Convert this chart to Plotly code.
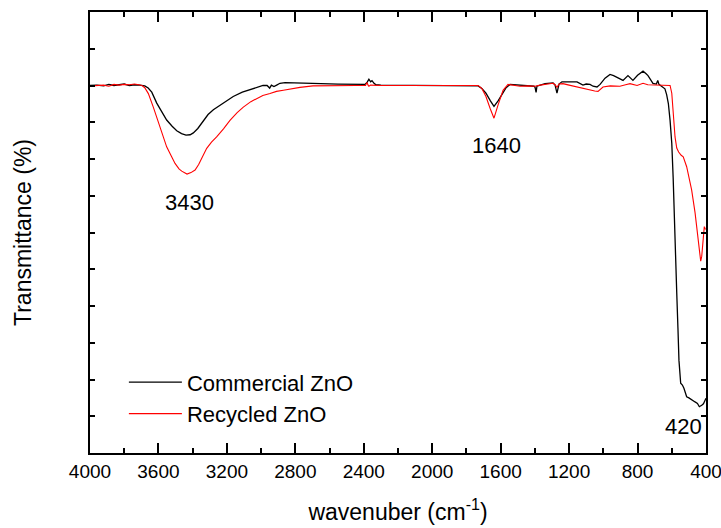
import plotly.graph_objects as go

# Commercial ZnO (black)
comm_wn = [4000, 3960, 3920, 3890, 3860, 3830, 3800, 3770, 3740, 3710, 3680, 3660, 3639, 3610,
           3580, 3552, 3520, 3493, 3465, 3439, 3415, 3396, 3370, 3338, 3310, 3279, 3220, 3163,
           3110, 3065, 3020, 2989, 2965, 2950, 2940, 2925, 2909, 2890, 2860, 2831, 2700, 2550,
           2420, 2393, 2380, 2370, 2360, 2352, 2340, 2329, 2300, 2100, 1900, 1760, 1732, 1710,
           1686, 1660, 1639, 1615, 1592, 1570, 1545, 1520, 1487, 1440, 1405, 1399, 1393, 1388,
           1341, 1294, 1282, 1271, 1259, 1242, 1200, 1154, 1119, 1100, 1078, 1060, 1037, 1019,
           990, 961, 940, 920, 900, 885, 856, 840, 827, 800, 768, 750, 739, 710, 690, 682, 675,
           660, 640, 630, 620, 610, 600, 592, 585, 578, 571, 564, 558, 548, 538, 529, 513, 500,
           484, 464, 450, 439, 425, 415, 410, 400]
comm_t = [100.0, 100.1, 99.9, 100.3, 100.0, 100.2, 100.4, 100.0, 100.2, 100.1, 99.9, 99.3, 98.2, 95.2,
          92.8, 90.6, 88.9, 87.7, 86.9, 86.5, 86.6, 87.1, 88.3, 90.4, 92.1, 93.4, 95.3, 97.0,
          98.2, 98.9, 99.6, 100.0, 100.0, 99.3, 100.1, 99.7, 100.1, 100.6, 100.8, 100.8, 100.6, 100.4,
          100.3, 100.3, 100.9, 101.7, 101.0, 101.3, 100.6, 100.2, 100.1, 100.0, 100.0, 100.0, 99.9, 99.2,
          97.9, 95.8, 94.3, 95.8, 97.6, 99.3, 100.3, 100.2, 100.0, 99.9, 99.8, 99.5, 98.1, 99.8,
          100.5, 100.7, 100.1, 97.9, 100.4, 101.0, 101.0, 101.0, 100.1, 100.4, 100.3, 99.8, 99.6, 100.3,
          102.0, 103.0, 102.7, 102.3, 101.8, 101.4, 102.7, 102.0, 101.4, 102.8, 103.9, 103.2, 102.7, 100.6, 100.4, 101.4, 100.3,
          99.8, 99.1, 97.5, 95.1, 90.5, 84.3, 75.0, 66.2, 53.0, 43.6, 34.0, 25.2, 19.0, 18.5, 17.6, 15.3, 15.0,
          14.4, 13.9, 13.5, 12.6, 13.0, 13.4, 13.9, 14.9]

# Recycled ZnO (red)
rec_wn = [4000, 3960, 3920, 3890, 3860, 3830, 3800, 3770, 3740, 3715, 3696, 3680, 3659, 3630,
          3610, 3591, 3570, 3552, 3525, 3503, 3480, 3464, 3433, 3410, 3386, 3365, 3347, 3318,
          3290, 3260, 3220, 3182, 3140, 3104, 3060, 3026, 2990, 2948, 2910, 2870, 2831, 2773,
          2697, 2600, 2450, 2390, 2381, 2375, 2370, 2360, 2300, 2100, 1900, 1760, 1732, 1710,
          1686, 1662, 1639, 1616, 1600, 1586, 1557, 1520, 1487, 1440, 1399, 1370, 1341, 1294,
          1282, 1271, 1259, 1236, 1200, 1154, 1120, 1078, 1050, 1031, 1015, 1002, 960, 903, 870,
          844, 803, 768, 740, 686, 650, 627, 610, 600, 591, 581, 571, 560, 545, 533, 513, 500,
          484, 464, 445, 431, 425, 420, 410, 403]
rec_t = [99.9, 100.0, 100.1, 99.8, 100.3, 100.1, 100.3, 100.2, 100.4, 100.2, 100.0, 99.4, 97.8, 94.1,
         91.4, 88.7, 85.7, 83.3, 80.8, 78.8, 77.3, 76.7, 75.9, 76.3, 77.0, 78.5, 80.2, 82.9,
         84.6, 86.0, 88.2, 90.5, 92.6, 94.1, 95.6, 96.4, 97.3, 97.8, 98.4, 98.7, 99.1, 99.5,
         99.9, 100.0, 100.0, 100.0, 100.8, 100.1, 99.8, 100.1, 100.0, 100.0, 99.9, 100.0, 100.0, 99.2,
         97.0, 93.8, 91.1, 94.6, 97.0, 98.7, 100.3, 100.0, 99.8, 99.9, 99.8, 100.1, 100.3, 100.6,
         100.2, 99.5, 100.4, 100.5, 100.1, 99.6, 99.1, 98.7, 98.5, 98.4, 99.2, 99.6, 99.9, 99.8, 100.2,
         100.5, 100.0, 100.6, 100.2, 100.2, 100.0, 100.0, 100.0, 97.9, 92.4, 86.0, 83.0, 81.9, 81.0, 80.6, 77.9, 75.2,
         71.6, 65.4, 58.0, 52.2, 53.5, 56.2, 61.6, 60.8]

x_ticks = [4000, 3600, 3200, 2800, 2400, 2000, 1600, 1200, 800, 400]
peak_labels = ["3430", "1640", "420"]
peak_x = [3421, 1625, 534]
peak_y = [68.3, 83.8, 7.3]

FONT = "Liberation Sans, Arial, sans-serif"

fig = go.Figure()
fig.add_trace(go.Scatter(x=comm_wn, y=comm_t, mode="lines", name="Commercial ZnO",
                         line=dict(color="black", width=1.3)))
fig.add_trace(go.Scatter(x=rec_wn, y=rec_t, mode="lines", name="Recycled ZnO",
                         line=dict(color="#ff0000", width=1.1)))

for lab, xx, yy in zip(peak_labels, peak_x, peak_y):
    fig.add_annotation(x=xx, y=yy, xref="x", yref="y", text=lab, showarrow=False,
                       font=dict(size=22, color="black", family=FONT))

fig.update_layout(
    width=721, height=528,
    margin=dict(l=90, r=15, t=12, b=75),
    paper_bgcolor="white", plot_bgcolor="white",
    font=dict(family=FONT, color="black"),
    showlegend=True,
    legend=dict(x=0.055, y=0.208, xanchor="left", yanchor="top",
                font=dict(size=22, family=FONT, color="black"),
                bgcolor="rgba(0,0,0,0)", itemwidth=53, tracegroupgap=0),
    xaxis=dict(
        range=[4000, 400], tickvals=x_ticks, ticktext=[str(v) for v in x_ticks],
        ticks="inside", ticklen=10, tickwidth=1.5, tickcolor="black",
        minor=dict(dtick=200, tick0=0, ticks="inside", ticklen=5, tickwidth=1.5, tickcolor="black"),
        showline=True, linecolor="black", linewidth=1.6, mirror="ticks",
        showgrid=False, zeroline=False, automargin=False, ticklabeloverflow="allow",
        tickfont=dict(size=19, family=FONT, color="black"),
        title=dict(text="wavenuber (cm<sup>-1</sup>)", font=dict(size=23, family=FONT, color="black"),
                   standoff=23),
    ),
    yaxis=dict(
        range=[0, 120], dtick=10, tick0=0,
        ticks="inside", ticklen=5, tickwidth=1.5, tickcolor="black",
        showticklabels=False, automargin=False,
        showline=True, linecolor="black", linewidth=1.6, mirror="ticks",
        showgrid=False, zeroline=False,
        title=dict(text="Transmittance (%)", font=dict(size=23, family=FONT, color="black"),
                   standoff=50),
    ),
)

fig.write_html("out.html")
